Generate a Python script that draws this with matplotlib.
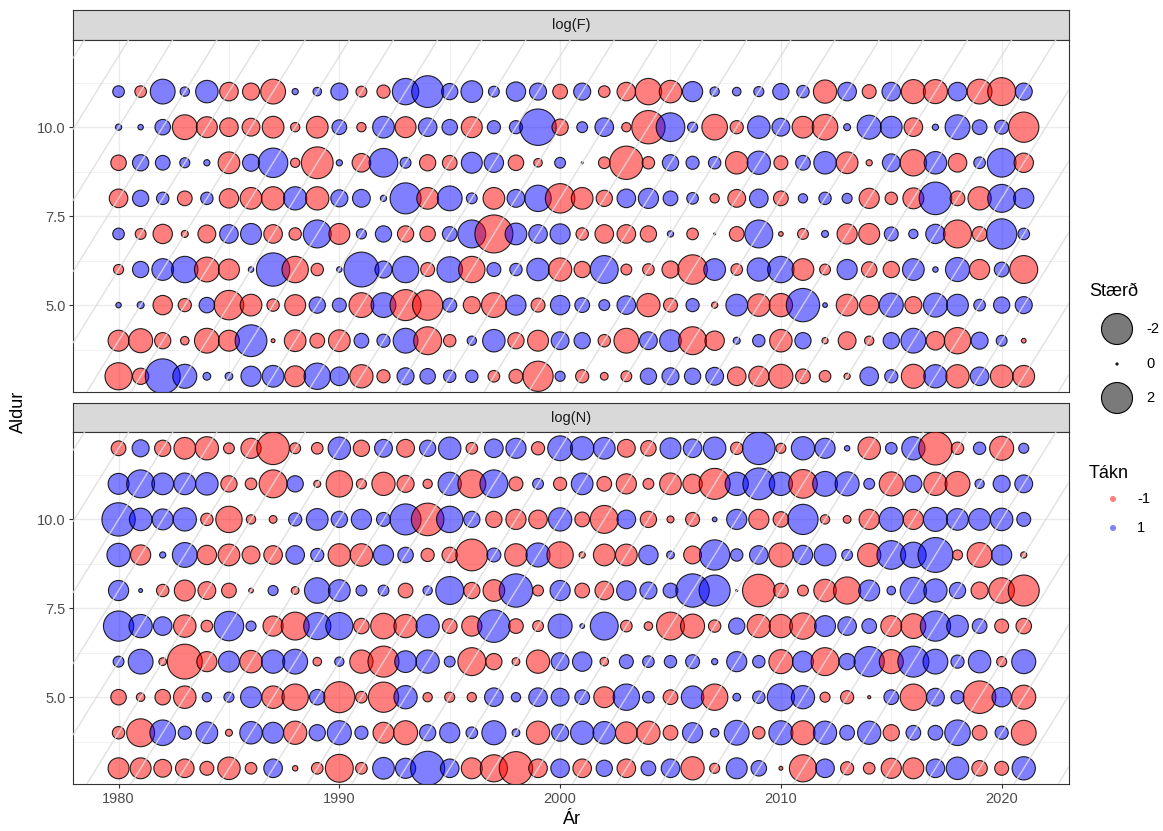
import matplotlib
matplotlib.use("Agg")
import matplotlib.pyplot as plt
import numpy as np

plt.rcParams["font.family"] = ["Liberation Sans", "DejaVu Sans"]

W, H, DPI = 1163, 831, 100

years = list(range(1980, 2022))
f_ages = [3, 4, 5, 6, 7, 8, 9, 10, 11]
n_ages = [3, 4, 5, 6, 7, 8, 9, 10, 11, 12]

# --- log(F) residuals, one list per age, years 1980-2021 ---
logF_11 = [0.75, -0.75, 1.6, 0.6, 1.45, -1.2, -1.1, -1.6, 0.4, 0.55,
           1.1, -0.7, -0.85, 1.7, 2.05, 1.05, 1.4, 0.7, 1.25, 1.1,
           -0.95, 1.1, -0.75, -1.2, -1.7, -1.45, 1.3, 0.6, 0.55, 0.65,
           1.05, 0.8, -1.5, 1.2, -0.9, 1.2, -1.55, -1.55, 1.2, -1.6,
           -1.8, 1.1]
logF_10 = [0.4, 0.35, 1.0, -1.6, -1.35, -1.2, -1.15, -1.4, -0.6, -1.4,
           0.95, -0.6, 1.4, -1.35, 1.2, 1.0, -1.35, 0.85, 0.85, 2.35,
           -1.05, 0.7, 1.2, -0.6, -2.15, 1.85, 0.65, -1.65, -0.85, 1.45,
           1.15, -1.4, -1.65, 0.45, 1.55, 1.4, -1.2, 0.4, 1.6, 0.95,
           0.9, -1.95]
logF_9 = [-1.0, 1.05, 0.95, 0.65, 0.4, -1.4, 1.1, 1.9, -0.6, -2.05,
          0.4, -1.2, 1.85, 0.7, -1.05, -0.95, 1.35, 1.25, -1.0, -0.55,
          0.7, 0.05, -0.75, -2.15, -0.8, 1.05, 0.85, 0.8, -1.45, 1.5,
          -0.9, 0.95, 1.45, -1.4, -0.4, 1.15, -1.7, 1.45, -1.2, 0.75,
          1.85, -1.25]
logF_8 = [-1.2, 1.05, 0.8, -0.95, 0.8, -1.25, -1.4, -1.5, 1.5, -1.5,
          1.1, 1.15, 0.4, 2.0, -1.4, 1.6, 0.7, -1.4, 1.15, 1.7,
          -1.9, -1.4, -1.05, 1.2, 1.3, 0.95, 0.75, -0.6, -1.15, 1.2,
          -0.95, 0.6, 0.8, 0.65, -1.3, -0.8, -1.35, 2.1, -0.95, -1.5,
          1.8, 1.3]
logF_7 = [0.75, -0.7, -1.25, -0.45, -1.15, 1.2, 1.35, -1.2, -0.8, 1.8,
          -1.35, 0.65, 1.05, -1.05, -1.0, 0.95, 1.8, -2.45, 1.4, 1.2,
          1.3, -0.8, -1.2, -1.2, -1.05, 0.4, -0.75, -0.1, -0.95, 1.8,
          -0.3, -0.7, 0.45, -1.3, -1.35, 0.9, 0.6, 1.25, -1.8, -0.95,
          1.95, 0.75]
logF_6 = [-0.65, 1.05, 1.4, 1.7, -1.6, -1.35, 0.35, 2.15, -1.7, -0.8,
          0.35, 2.25, 1.1, 1.7, -0.9, 1.65, -1.7, 0.9, 0.8, 1.45,
          -1.5, -1.05, 1.8, -0.7, -0.75, -1.1, -1.9, 1.4, -0.75, 1.5,
          1.7, -1.4, -0.7, 1.3, -1.0, -1.05, 1.4, 0.35, 1.55, -1.3,
          0.95, -1.8]
logF_5 = [0.35, 0.45, -1.25, -0.85, 1.0, -1.9, -1.4, -0.8, -1.35, 1.05,
          0.9, -1.6, 1.6, -2.0, -1.95, 0.9, -1.1, -1.6, 1.3, -0.9,
          1.25, 0.95, 0.7, 1.2, -1.5, -0.9, 0.85, -0.4, 1.4, -1.45,
          -1.5, 2.15, 0.3, -1.4, -1.25, 1.55, -1.1, 1.55, 1.4, 0.75,
          1.05, 1.1]
logF_4 = [-1.35, -1.55, -1.05, -0.55, -1.6, -1.35, 2.05, -0.25, -1.4, -0.95,
          -1.4, 0.95, 0.85, 1.6, -1.8, -0.8, 0.6, 1.45, -1.05, -1.35,
          1.15, 1.05, -0.8, -1.6, 1.15, 1.4, -1.8, -1.25, 0.45, 0.8,
          -1.45, 1.05, -0.4, -1.15, -0.6, 1.05, 1.6, -1.2, -1.7, 1.1,
          0.7, -0.3]
logF_3 = [-1.75, -1.05, 2.25, 1.55, 0.5, 0.5, 1.3, 1.4, -1.35, 1.7,
          1.2, -1.5, -0.85, 1.1, 1.0, 0.8, 0.8, -0.75, -0.9, -1.95,
          0.65, -0.85, -0.5, -0.7, 1.05, 1.1, 1.05, 1.15, -1.2, -1.3,
          -1.55, -0.95, -0.75, -0.4, 1.2, 0.85, -1.55, 1.5, -1.5, 1.2,
          -1.45, -1.4]

# --- log(N) residuals, one list per age, years 1980-2021 ---
logN_12 = [-0.95, 1.1, -1.05, -1.4, -1.5, -0.7, -1.3, -2.1, -0.7, -0.75,
           1.45, -1.05, 1.15, -1.15, 1.05, 1.45, -0.75, 1.2, 1.3, -0.85,
           1.6, 1.5, 1.4, -1.15, -1.0, 1.35, 1.2, 1.45, -0.8, 2.1,
           -0.65, 1.5, 1.3, 0.35, -1.45, 0.75, 1.5, -2.15, -0.8, 0.8,
           -1.55, 0.65]
logN_11 = [1.35, 1.8, 1.4, 1.4, 1.45, -1.05, -0.75, -1.8, 1.05, -0.45,
           -1.7, -0.65, -1.5, -1.1, -0.6, 1.5, -1.8, 1.8, -0.9, 0.7,
           -0.85, 1.4, -0.95, -1.3, -0.7, -1.4, -1.25, -2.0, 1.5, 2.05,
           1.5, -1.85, 1.6, 1.55, 0.7, -1.55, 1.1, -1.5, -1.6, 0.6,
           1.1, 1.15]
logN_10 = [2.15, 1.45, 1.35, 1.5, -0.8, -1.7, -0.6, -0.5, 0.85, 1.4,
           1.05, 1.3, 0.9, 2.0, -2.1, 1.7, 1.05, -1.05, -1.3, -1.2,
           1.5, -0.95, -1.8, 1.2, -1.05, -0.45, -0.9, 0.3, 1.3, -1.3,
           -1.0, 1.95, -0.6, -0.5, -1.3, 1.55, -1.3, 1.55, 1.4, 1.4,
           1.45, 0.9]
logN_9 = [1.5, -1.3, 0.4, 1.6, -1.25, -1.4, -1.15, -1.2, 1.2, 0.85,
          -1.45, -1.45, 1.3, 1.0, -0.85, -1.0, -2.05, 0.9, -1.45, 1.55,
          -1.7, -0.4, -1.4, -1.4, 1.25, 0.5, -1.15, 1.95, 0.8, 1.2,
          -1.55, 1.25, 1.4, 0.7, -1.5, 1.85, 1.65, 2.25, -0.65, -1.6,
          1.3, -0.4]
logN_8 = [1.3, 0.25, -0.8, -1.35, -1.15, -0.95, -0.3, 0.65, -0.5, 1.65,
          1.4, 0.7, 0.7, -0.95, 0.6, 1.8, -1.05, -1.4, 2.15, -0.7,
          1.3, -0.95, -1.2, 1.25, 1.1, 0.95, 2.15, 2.0, 0.1, -2.1,
          -0.95, -0.7, -1.45, -1.75, 1.35, 0.55, 1.7, 1.5, 1.05, -1.1,
          -1.65, -2.0]
logN_7 = [1.95, 1.5, 1.2, -1.45, -0.75, 1.9, 0.65, -1.3, -1.8, 1.75,
          1.75, -1.0, -1.65, -1.5, 1.5, -0.95, -1.3, 2.1, -0.95, -0.7,
          1.55, 0.3, 1.8, -0.75, -0.55, -1.8, -1.55, -0.8, 1.05, -1.5,
          -1.5, -1.7, 1.35, 1.2, 0.95, -1.35, -1.6, 1.95, 1.4, 0.95,
          -0.9, -1.0]
logN_6 = [0.7, 1.6, -0.5, -2.25, -1.3, 1.35, -1.45, 1.5, 1.6, -0.55,
          0.6, -1.5, -2.0, 1.4, 1.5, 0.7, -1.8, -1.05, -0.5, -1.5,
          1.15, 1.25, -0.55, 0.9, 0.75, 0.8, 0.9, 0.4, 1.3, 0.8,
          -1.55, 1.35, -1.8, 1.05, 1.95, -1.55, 2.0, 1.6, 0.85, 1.45,
          -0.65, 1.55]
logN_5 = [-1.0, -0.55, -1.0, -1.45, 0.6, 0.65, 1.35, -1.45, -1.7, 1.0,
          -2.0, -0.75, -1.95, 1.5, -0.6, -0.65, -0.6, 1.2, 0.6, 1.2,
          1.15, 0.95, -1.35, 1.7, 0.75, -0.95, 1.45, -1.7, 0.5, 0.8,
          1.75, 1.5, -0.65, -0.85, -0.2, 0.95, -1.7, 1.15, 0.85, -2.1,
          1.25, -1.55]
logN_4 = [-0.8, -1.8, 1.65, 0.85, 1.4, -0.45, 1.45, 1.35, -1.5, 1.05,
          1.55, 0.85, -1.35, -1.55, 1.05, 1.3, 0.75, 1.55, 0.5, -1.5,
          1.1, 1.5, 1.45, -1.4, -1.5, -0.95, 1.3, 0.55, 1.6, -0.8,
          1.55, -1.55, 1.5, 0.95, 1.5, -1.05, 0.95, 0.95, 1.65, -0.95,
          0.85, -1.6]
logN_3 = [-1.35, -1.35, -1.15, -1.2, -0.9, -1.45, -0.75, 1.2, -0.35, -0.75,
          -1.8, -0.75, 1.4, 1.3, 2.2, 1.2, -1.35, -1.75, -2.15, -1.2,
          1.2, -1.2, 1.05, -1.2, 0.95, 1.2, -1.5, -0.65, 1.35, 1.0,
          -0.25, -1.75, 1.2, -0.85, -0.75, -1.3, -1.35, 1.2, 1.45, -1.0,
          -0.9, 1.5]

f_rows = [logF_3, logF_4, logF_5, logF_6, logF_7, logF_8, logF_9, logF_10, logF_11]
n_rows = [logN_3, logN_4, logN_5, logN_6, logN_7, logN_8, logN_9, logN_10, logN_11, logN_12]

size_breaks = [-2, 0, 2]
sign_breaks = [-1, 1]

RED = (1.0, 0.0, 0.0, 0.5)
BLUE = (0.0, 0.0, 1.0, 0.5)
EDGE = (0.0, 0.0, 0.0, 0.85)
GRID = "#ebebeb"
BORDER = "#333333"
PX_PER_UNIT = 15.5


def marker_area(v):
    # diameter in pixels grows with |v|, converted to points^2 for scatter
    d_px = np.maximum(np.abs(np.asarray(v, dtype=float)) * PX_PER_UNIT, 2.0)
    return (d_px * 72.0 / DPI) ** 2


def px_axes(left, top, right, bottom):
    return fig.add_axes([left / W, 1 - bottom / H, (right - left) / W, (bottom - top) / H])


def strip(left, top, right, bottom, label):
    ax = px_axes(left, top, right, bottom)
    ax.set_facecolor("#d9d9d9")
    ax.set_xticks([])
    ax.set_yticks([])
    for s in ax.spines.values():
        s.set_color(BORDER)
        s.set_linewidth(0.8)
    ax.text(0.5, 0.5, label, transform=ax.transAxes, ha="center", va="center",
            fontsize=10.5, color="#1a1a1a")


def panel(ax, ages, rows, show_x):
    ax.set_xlim(1977.95, 2023.05)
    ax.set_ylim(2.55, 12.45)
    ax.set_xticks([1980, 1990, 2000, 2010, 2020])
    ax.set_xticks([1985, 1995, 2005, 2015], minor=True)
    ax.set_yticks([5, 7.5, 10])
    ax.set_yticklabels(["5.0", "7.5", "10.0"])
    ax.set_yticks([3.75, 6.25, 8.75, 11.25], minor=True)
    ax.grid(which="major", color=GRID, linewidth=1.0)
    ax.grid(which="minor", color=GRID, linewidth=0.5)
    ax.set_axisbelow(True)
    ax.tick_params(which="minor", length=0)
    ax.tick_params(which="major", length=3, width=0.8, color=BORDER,
                   labelcolor="#4d4d4d", labelsize=10.5, pad=2.5)
    if not show_x:
        ax.tick_params(axis="x", which="both", length=0, labelbottom=False)
    for s in ax.spines.values():
        s.set_color(BORDER)
        s.set_linewidth(0.8)

    vals = np.array(rows)
    yy, aa = np.meshgrid(years, ages)
    cols = [BLUE if v > 0 else RED for v in vals.ravel()]
    ax.scatter(yy.ravel(), aa.ravel(), s=marker_area(vals.ravel()), c=cols,
               edgecolors=EDGE, linewidths=0.8, zorder=3)

    # cohort lines (year - age = const), every second year class
    for c in range(1966, 2022, 2):
        ax.axline((c, 0), slope=1, color="#dcdcdc", alpha=0.85, lw=1.0, zorder=4)


fig = plt.figure(figsize=(W / DPI, H / DPI), dpi=DPI)
fig.patch.set_facecolor("white")

strip(73.3, 10, 1069, 40, "log(F)")
ax_f = px_axes(73.3, 40, 1069, 392.3)
panel(ax_f, f_ages, f_rows, show_x=False)

strip(73.3, 402.7, 1069, 432.3, "log(N)")
ax_n = px_axes(73.3, 432.3, 1069, 784.3)
panel(ax_n, n_ages, n_rows, show_x=True)

fig.text(571 / W, 1 - 820 / H, "Ár", ha="center", va="center", fontsize=13)
fig.text(18 / W, 1 - 412 / H, "Aldur", ha="center", va="center", rotation=90, fontsize=13)

# legends
lg = fig.add_axes([0, 0, 1, 1], zorder=10)
lg.set_xlim(0, W)
lg.set_ylim(H, 0)
lg.axis("off")

lg.text(1089, 292, "Stærð", ha="left", va="center", fontsize=13)
size_y = [329, 364, 398]
lg.scatter([1117] * len(size_breaks), size_y, s=marker_area(size_breaks),
           c="#7a7a7a", edgecolors="black", linewidths=0.8)
for b, y in zip(size_breaks, size_y):
    lg.text(1146, y, str(b), ha="left", va="center", fontsize=10.5)

lg.text(1089, 474, "Tákn", ha="left", va="center", fontsize=13)
sign_y = [499, 528]
lg.scatter([1113] * len(sign_breaks), sign_y, s=(6 * 72.0 / DPI) ** 2,
           c=[RED if b < 0 else BLUE for b in sign_breaks], linewidths=0)
for b, y in zip(sign_breaks, sign_y):
    lg.text(1137, y, str(b), ha="left", va="center", fontsize=10.5)

fig.savefig("out.png", dpi=DPI)
